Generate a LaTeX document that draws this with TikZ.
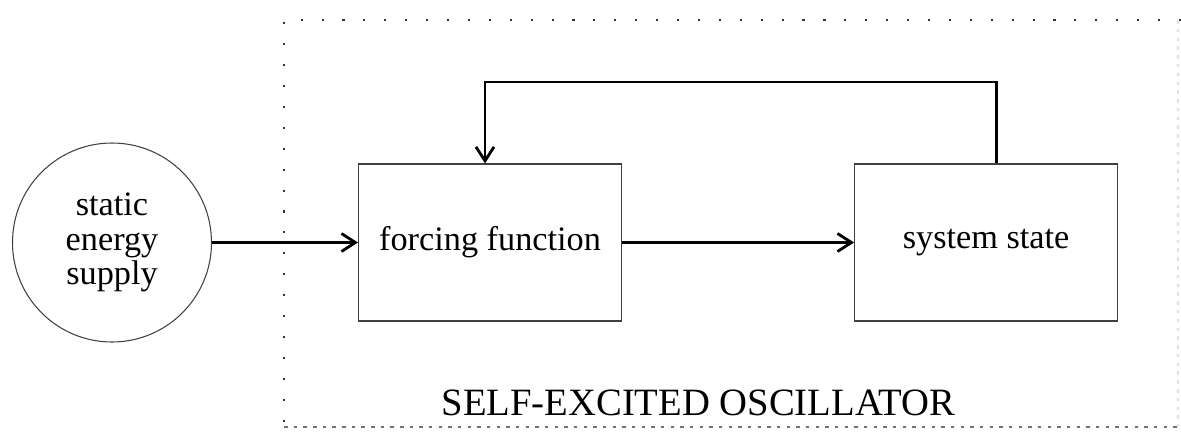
\documentclass[tikz,border=0pt]{standalone}
\usepackage{fontspec}
\setmainfont{Liberation Serif}
\usepackage{xcolor}
\usepackage{tikz}
\usetikzlibrary{positioning,arrows.meta}

\begin{document}
\begin{tikzpicture}[
            blockbox/.style={draw=black!75,line width=0.6pt,minimum width=5.26cm,minimum height=3.14cm,
                font=\fontsize{19.5}{21}\selectfont},
            sourcebox/.style={draw=black!75,line width=0.6pt,circle,minimum size=3.98cm,inner sep=0pt,
                align=center,font=\fontsize{19.5}{19.5}\selectfont},
            flow/.style={line width=1.6pt,-{Straight Barb[length=0.28cm,width=0.36cm,line width=1.6pt]}},
            frameline/.style={line width=1.6pt,dash pattern=on 1.2pt off 10.7pt,black!80}]
            \useasboundingbox (0,0) rectangle (23.62,8.62);
            % blocks
            \node[sourcebox] (supply) at (2.24,3.77) {static\\energy\\supply};
            \node[blockbox, right=2.92cm of supply] (force) {forcing function};
            \node[blockbox, right=4.64cm of force] (state) {system state};
            % oscillator frame
            \coordinate (frametl) at (5.68,8.22);
            \coordinate (framebl) at (5.68,0.08);
            \coordinate (frametr) at (23.62,8.22);
            \coordinate (framebr) at (23.62,0.08);
            \draw[frameline] (frametr) -- (frametl) -- (framebl);
            \draw[black!55,line width=0.8pt,dash pattern=on 2pt off 3.5pt] (framebl) -- (framebr);
            \draw[black!12,line width=0.6pt,dash pattern=on 2pt off 3pt] (23.56,8.22) -- (23.56,0.08);
            \node[font=\fontsize{22}{26}\selectfont, anchor=base] (oscname) at (13.97,0.32) {SELF-EXCITED OSCILLATOR};
            % connections
            \coordinate (loop) at (9.70,6.98);
            \draw[flow] (supply) -- (force);
            \draw[flow] (force) -- (state);
            \draw[flow] ([xshift=0.21cm]state.north) |- (loop) -- (force.north -| loop);
        \end{tikzpicture}
\end{document}
